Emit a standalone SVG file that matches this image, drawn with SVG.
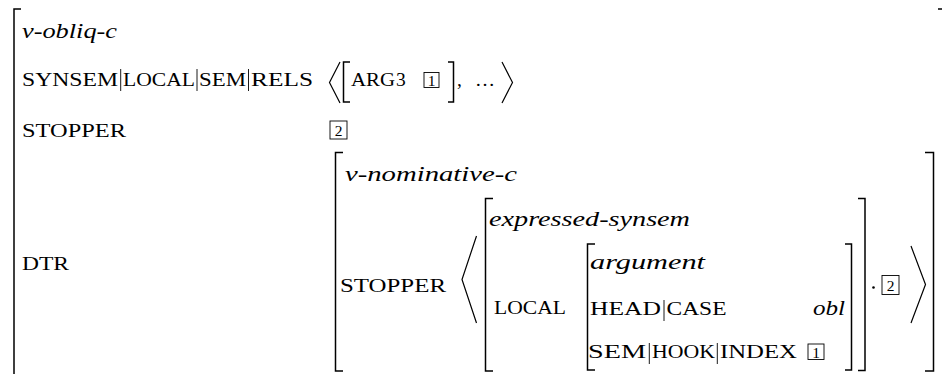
<svg xmlns="http://www.w3.org/2000/svg" width="942" height="374" viewBox="0 0 942 374">
<style>
text{font-family:"Liberation Serif","DejaVu Serif",serif;fill:#000}
.sc{font-size:19.5px}
.it{font-style:italic;font-size:20px}
.num{font-size:15.5px;text-anchor:middle}
.br{fill:none;stroke:#000;stroke-width:1.5}
.ang{fill:none;stroke:#000;stroke-width:1.2}
.bar{stroke:#000;stroke-width:0.9}
.box{fill:none;stroke:#000;stroke-width:0.9}
</style>
<rect width="942" height="374" fill="#fff"/>
<g id="outer" font-family="Liberation Serif, serif">
<path class="br" d="M21,9 H14 V374"/>
<path class="br" d="M938,9 H943 V374"/>
<text class="it" x="22" y="38" textLength="95" lengthAdjust="spacingAndGlyphs">v-obliq-c</text>
</g>
<g id="row-rels" font-family="Liberation Serif, serif">
<text class="sc" x="22" y="86" textLength="96" lengthAdjust="spacingAndGlyphs">SYNSEM</text>
<line class="bar" x1="120.7" y1="69" x2="120.7" y2="91"/>
<text class="sc" x="123" y="86" textLength="72" lengthAdjust="spacingAndGlyphs">LOCAL</text>
<line class="bar" x1="197" y1="69" x2="197" y2="91"/>
<text class="sc" x="199" y="86" textLength="47" lengthAdjust="spacingAndGlyphs">SEM</text>
<line class="bar" x1="248.5" y1="69" x2="248.5" y2="91"/>
<text class="sc" x="251" y="86" textLength="62" lengthAdjust="spacingAndGlyphs">RELS</text>
<path class="ang" d="M340,62 L329.5,82.5 L340,103"/>
<path class="br" d="M350,62 H343.5 V102 H350"/>
<text class="sc" x="351" y="86" textLength="44" lengthAdjust="spacingAndGlyphs">ARG</text>
<text class="sc" x="396" y="86" font-size="21">3</text>
<rect class="box" x="424" y="72.5" width="15" height="15"/>
<text class="num" x="431.5" y="85.5">1</text>
<path class="br" d="M448,62 H453.5 V102 H448"/>
<text class="sc" x="457" y="86">,</text>
<text class="sc" x="475" y="86" textLength="20" lengthAdjust="spacingAndGlyphs">…</text>
<path class="ang" d="M502,62 L512.5,82.5 L502,103"/>
</g>
<g id="row-stopper" font-family="Liberation Serif, serif">
<text class="sc" x="22" y="137" textLength="104" lengthAdjust="spacingAndGlyphs">STOPPER</text>
<rect class="box" x="330" y="121" width="17" height="18"/>
<text class="num" x="338.5" y="136">2</text>
</g>
<g id="dtr" font-family="Liberation Serif, serif">
<text class="sc" x="22" y="270" textLength="47" lengthAdjust="spacingAndGlyphs">DTR</text>
<path class="br" d="M343,152.5 H335.5 V371 H343"/>
<path class="br" d="M925,152.5 H933.5 V371 H925"/>
<text class="it" x="345" y="181" textLength="172" lengthAdjust="spacingAndGlyphs">v-nominative-c</text>
<text class="sc" x="340" y="292" textLength="106" lengthAdjust="spacingAndGlyphs">STOPPER</text>
<path class="ang" d="M476.5,236 L462,279.5 L476.5,323"/>
<path class="ang" d="M911,246 L925.5,284.5 L911,323"/>
<circle cx="873.5" cy="287.5" r="1.3" fill="#000"/>
<rect class="box" x="882" y="275.5" width="17" height="19"/>
<text class="num" x="890.5" y="291">2</text>
</g>
<g id="expressed-synsem" font-family="Liberation Serif, serif">
<path class="br" d="M493,198.5 H485.5 V371 H493"/>
<path class="br" d="M858,198.5 H865 V370.5 H858"/>
<text class="it" x="489" y="226" textLength="201" lengthAdjust="spacingAndGlyphs">expressed-synsem</text>
<text class="sc" x="494" y="314" textLength="72" lengthAdjust="spacingAndGlyphs">LOCAL</text>
</g>
<g id="argument" font-family="Liberation Serif, serif">
<path class="br" d="M595,244 H587.5 V370 H595"/>
<path class="br" d="M845,244 H851.5 V370 H845"/>
<text class="it" x="590" y="268.5" textLength="115" lengthAdjust="spacingAndGlyphs">argument</text>
<text class="sc" x="590" y="315" textLength="71" lengthAdjust="spacingAndGlyphs">HEAD</text>
<line class="bar" x1="664" y1="300" x2="664" y2="321"/>
<text class="sc" x="666.5" y="315" textLength="60" lengthAdjust="spacingAndGlyphs">CASE</text>
<text class="it" x="813" y="315" textLength="32" lengthAdjust="spacingAndGlyphs">obl</text>
<text class="sc" x="588" y="358" textLength="58" lengthAdjust="spacingAndGlyphs">SEM</text>
<line class="bar" x1="649.3" y1="343" x2="649.3" y2="364"/>
<text class="sc" x="652" y="358" textLength="63" lengthAdjust="spacingAndGlyphs">HOOK</text>
<line class="bar" x1="717.3" y1="343" x2="717.3" y2="364"/>
<text class="sc" x="720" y="358" textLength="77" lengthAdjust="spacingAndGlyphs">INDEX</text>
<rect class="box" x="808" y="344" width="16" height="15.5"/>
<text class="num" x="816" y="357.5">1</text>
</g>
</svg>
